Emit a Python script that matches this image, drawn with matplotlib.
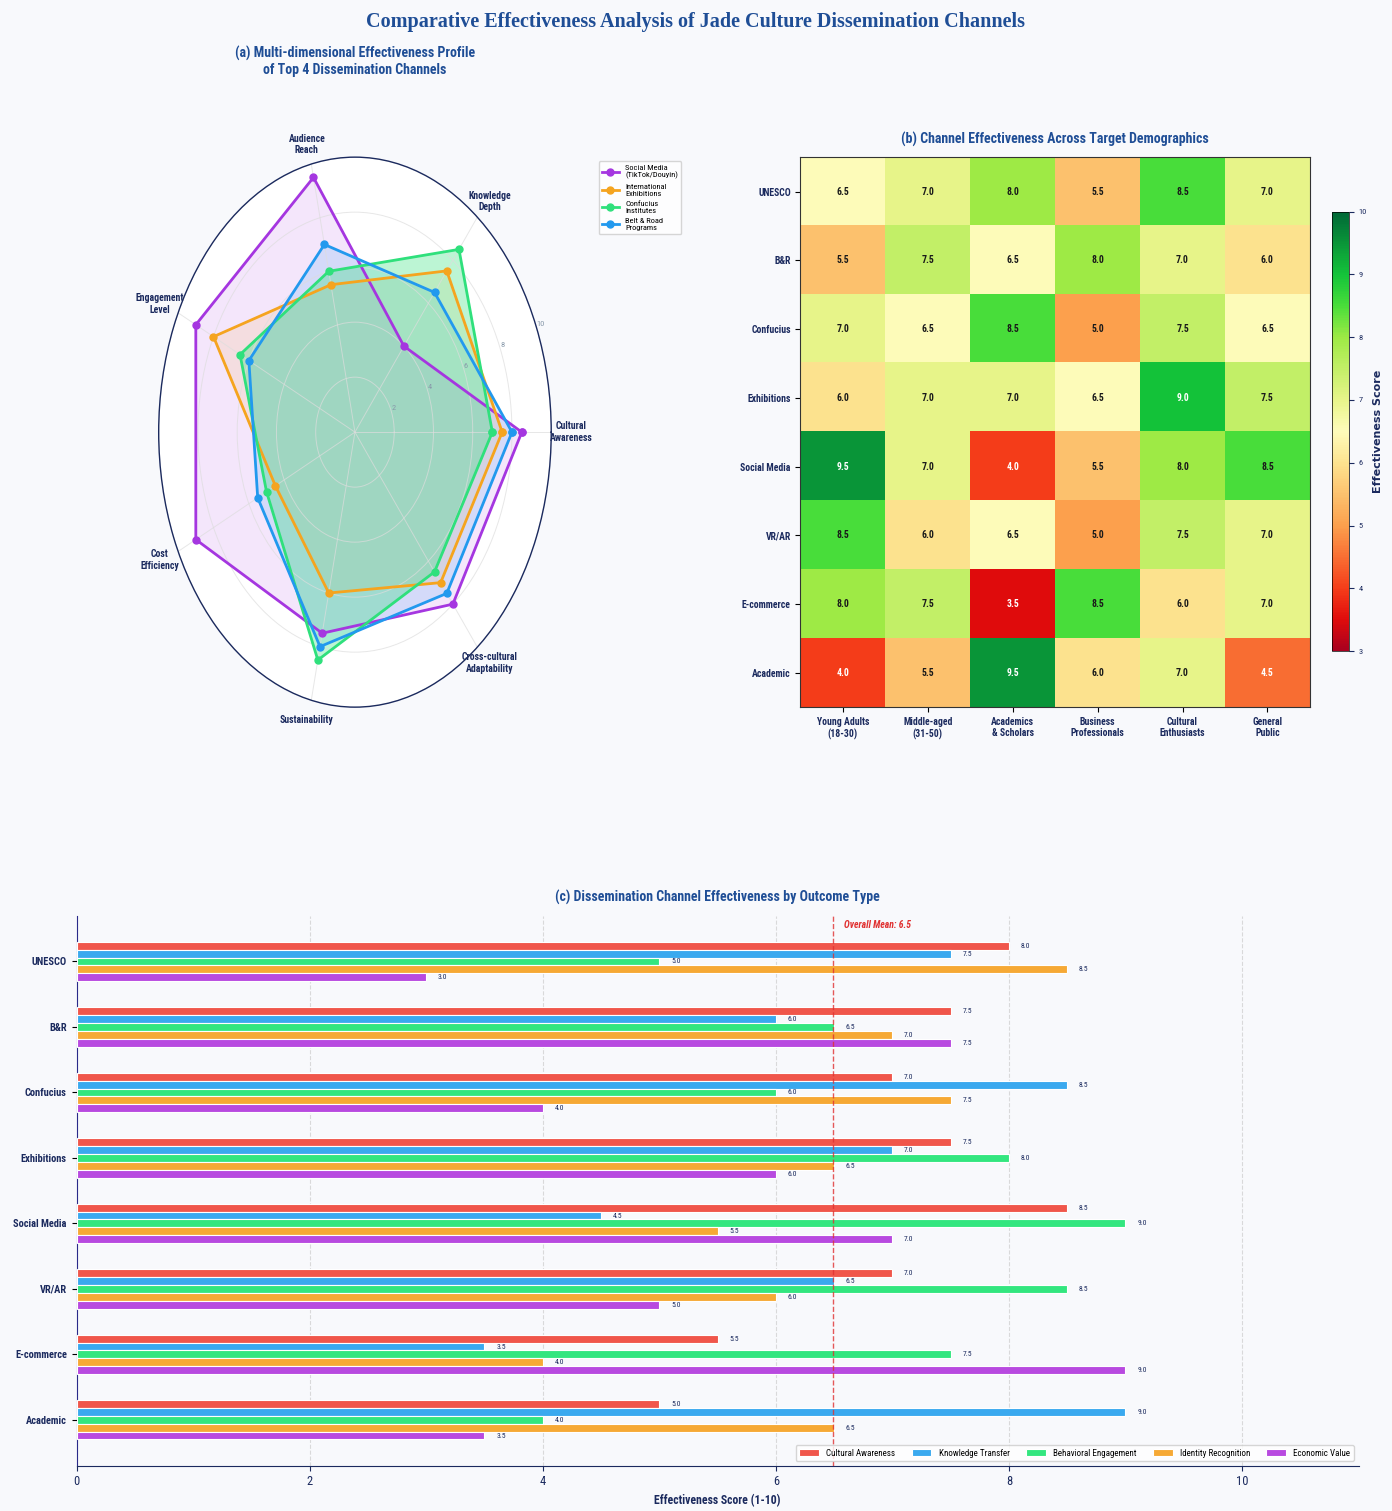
import numpy as np
import matplotlib
matplotlib.use('Agg')
import matplotlib.pyplot as plt
from matplotlib import font_manager
from matplotlib.colors import LinearSegmentedColormap

# pick the narrowest installed faces
installed = {f.name for f in font_manager.fontManager.ttflist}
sans = next((n for n in ['Roboto Condensed', 'Liberation Sans Narrow', 'Noto Sans Condensed',
                         'DejaVu Sans Condensed', 'Roboto', 'Liberation Sans'] if n in installed), 'DejaVu Sans')
serif = next((n for n in ['Noto Serif Condensed', 'DejaVu Serif Condensed', 'Liberation Serif']
              if n in installed), 'DejaVu Serif')
plt.rcParams['font.family'] = [sans, 'DejaVu Sans']

# ---- data ----
radar_dims = ['Cultural\nAwareness', 'Knowledge\nDepth', 'Audience\nReach', 'Engagement\nLevel',
              'Cost\nEfficiency', 'Sustainability', 'Cross-cultural\nAdaptability']
radar_names = ['Social Media\n(TikTok/Douyin)', 'International\nExhibitions',
               'Confucius\nInstitutes', 'Belt & Road\nPrograms']
social_media = [8.5, 4.0, 9.5, 9.0, 9.0, 7.5, 8.0]
exhibitions = [7.5, 7.5, 5.5, 8.0, 4.5, 6.0, 7.0]
confucius = [7.0, 8.5, 6.0, 6.5, 5.0, 8.5, 6.5]
belt_road = [8.0, 6.5, 7.0, 6.0, 5.5, 8.0, 7.5]
radar_colors = ['#a536e0', '#f5a41f', '#2fe07c', '#2299ee']

channels = ['UNESCO', 'B&R', 'Confucius', 'Exhibitions', 'Social Media', 'VR/AR', 'E-commerce', 'Academic']
demographics = ['Young Adults\n(18-30)', 'Middle-aged\n(31-50)', 'Academics\n& Scholars',
                'Business\nProfessionals', 'Cultural\nEnthusiasts', 'General\nPublic']
heat_values = [
    [6.5, 7.0, 8.0, 5.5, 8.5, 7.0],
    [5.5, 7.5, 6.5, 8.0, 7.0, 6.0],
    [7.0, 6.5, 8.5, 5.0, 7.5, 6.5],
    [6.0, 7.0, 7.0, 6.5, 9.0, 7.5],
    [9.5, 7.0, 4.0, 5.5, 8.0, 8.5],
    [8.5, 6.0, 6.5, 5.0, 7.5, 7.0],
    [8.0, 7.5, 3.5, 8.5, 6.0, 7.0],
    [4.0, 5.5, 9.5, 6.0, 7.0, 4.5],
]

outcomes = ['Cultural Awareness', 'Knowledge Transfer', 'Behavioral Engagement',
            'Identity Recognition', 'Economic Value']
cultural_awareness = [8.0, 7.5, 7.0, 7.5, 8.5, 7.0, 5.5, 5.0]
knowledge_transfer = [7.5, 6.0, 8.5, 7.0, 4.5, 6.5, 3.5, 9.0]
behavioral_engagement = [5.0, 6.5, 6.0, 8.0, 9.0, 8.5, 7.5, 4.0]
identity_recognition = [8.5, 7.0, 7.5, 6.5, 5.5, 6.0, 4.0, 6.5]
economic_value = [3.0, 7.5, 4.0, 6.0, 7.0, 5.0, 9.0, 3.5]
bar_colors = ['#f0564b', '#3aa9ef', '#33e67f', '#f6a935', '#b84ae0']

navy = '#1b2a5e'
title_blue = '#1f4e96'
bg = '#f8f9fc'

fig = plt.figure(figsize=(13.92, 15.11), dpi=100, facecolor=bg)
fig.suptitle('Comparative Effectiveness Analysis of Jade Culture Dissemination Channels',
             fontsize=14.5, fontweight='bold', color=title_blue, family=serif, y=0.992)

# ---- (a) radar ----
ax1 = fig.add_axes([0.114, 0.532, 0.282, 0.364], projection='polar')
ax1.set_aspect('auto')
ax1.set_facecolor('white')
angles = np.linspace(0, 2 * np.pi, len(radar_dims), endpoint=False).tolist()
angles_c = angles + angles[:1]
fill_z = [1.2, 1.3, 1.5, 1.4]
fill_a = [0.12, 0.12, 0.32, 0.15]
for vals, name, col, fz, fa in zip([social_media, exhibitions, confucius, belt_road], radar_names,
                                   radar_colors, fill_z, fill_a):
    v = list(vals) + [vals[0]]
    ax1.plot(angles_c, v, 'o-', color=col, lw=2, ms=5, label=name, zorder=3)
    ax1.fill(angles_c, v, color=col, alpha=fa, zorder=fz)
ax1.set_ylim(0, 10)
ax1.set_yticks([2, 4, 6, 8, 10])
ax1.set_yticklabels(['2', '4', '6', '8', '10'], fontsize=6, color='#8899aa')
ax1.set_rlabel_position(22.5)
ax1.set_xticks(angles)
ax1.set_xticklabels(radar_dims, fontsize=7, fontweight='bold', color=navy)
ax1.tick_params(axis='x', pad=4)
ax1.grid(color='#dddddd', lw=0.7, alpha=0.7)
ax1.spines['polar'].set_color(navy)
ax1.spines['polar'].set_linewidth(1)
ax1.set_title('(a) Multi-dimensional Effectiveness Profile\nof Top 4 Dissemination Channels',
              fontsize=10, fontweight='bold', color=title_blue, pad=60)
ax1.legend(loc='upper left', bbox_to_anchor=(1.11, 1.0), fontsize=6, frameon=True,
           facecolor='white', edgecolor='#cccccc', handlelength=2)

# ---- (b) heatmap ----
stops = [(0.0, '#a8001f'), (0.5 / 7, '#e00c0c'), (1 / 7, '#f53e1a'), (2 / 7, '#fca04d'),
         (3 / 7, '#fde38f'), (3.5 / 7, '#fefcbb'), (4 / 7, '#e8f58a'), (5 / 7, '#9eea45'),
         (5.5 / 7, '#4ade3a'), (6 / 7, '#14c43a'), (1.0, '#006837')]
cmap = LinearSegmentedColormap.from_list('eff', stops)
H = np.array(heat_values)
ax2 = fig.add_axes([0.575, 0.532, 0.366, 0.364])
im = ax2.imshow(H, cmap=cmap, vmin=3, vmax=10, aspect='auto')
for i in range(H.shape[0]):
    for j in range(H.shape[1]):
        v = H[i, j]
        c = 'white' if (v >= 9 or v <= 4.5) else '#1a1a1a'
        ax2.text(j, i, f'{v:.1f}', ha='center', va='center', fontsize=7, fontweight='bold', color=c)
ax2.set_xticks(range(len(demographics)))
ax2.set_xticklabels(demographics, fontsize=7, fontweight='bold', color=navy)
ax2.set_yticks(range(len(channels)))
ax2.set_yticklabels(channels, fontsize=7, fontweight='bold', color=navy)
for s in ax2.spines.values():
    s.set_color('#333333')
ax2.set_title('(b) Channel Effectiveness Across Target Demographics', fontsize=10,
              fontweight='bold', color=title_blue, pad=10)
cax = fig.add_axes([0.957, 0.569, 0.012, 0.291])
cb = fig.colorbar(im, cax=cax)
cb.set_ticks(range(3, 11))
cb.ax.tick_params(labelsize=6, colors=navy)
cb.set_label('Effectiveness Score', fontsize=8, fontweight='bold', color=navy, family='DejaVu Sans')
cb.outline.set_linewidth(0.5)

# ---- (c) grouped bars ----
ax3 = fig.add_axes([0.055, 0.030, 0.921, 0.364])
ax3.set_facecolor(bg)
series = [cultural_awareness, knowledge_transfer, behavioral_engagement, identity_recognition, economic_value]
y = np.arange(len(channels))
h = 0.12
for k, (vals, name, col) in enumerate(zip(series, outcomes, bar_colors)):
    pos = y + (k - 2) * h
    ax3.barh(pos, vals, height=h, color=col, edgecolor='white', linewidth=0.8, label=name, zorder=3)
    for p, v in zip(pos, vals):
        ax3.text(v + 0.1, p, f'{v:.1f}', va='center', ha='left', fontsize=5.5, color=navy)
mean_val = np.mean(series)
ax3.axvline(mean_val, color='#e03030', ls='--', lw=1, alpha=0.8, zorder=4)
ax3.text(mean_val + 0.1, -0.55, f'Overall Mean: {mean_val:.1f}', fontsize=7, color='#e03030',
         style='italic', fontweight='bold', va='center')
ax3.set_xlim(0, 11)
ax3.set_ylim(len(channels) - 0.3, -0.7)
ax3.set_yticks(y)
ax3.set_yticklabels(channels, fontsize=7.5, fontweight='bold', color=navy)
ax3.set_xticks([0, 2, 4, 6, 8, 10])
ax3.tick_params(axis='x', labelsize=9, colors=navy)
ax3.set_xlabel('Effectiveness Score (1-10)', fontsize=8.5, fontweight='bold', color=navy)
ax3.grid(axis='x', ls='--', color='#cccccc', alpha=0.7, zorder=0)
ax3.spines['top'].set_visible(False)
ax3.spines['right'].set_visible(False)
ax3.spines['left'].set_color('#2a2a8a')
ax3.spines['bottom'].set_color(navy)
ax3.set_title('(c) Dissemination Channel Effectiveness by Outcome Type', fontsize=10,
              fontweight='bold', color=title_blue, pad=10)
ax3.legend(loc='lower right', ncol=5, fontsize=6.5, frameon=True, facecolor='white',
           edgecolor='#cccccc', handlelength=2.2, columnspacing=1.8)

plt.savefig('out.png', dpi=100, facecolor=bg)
